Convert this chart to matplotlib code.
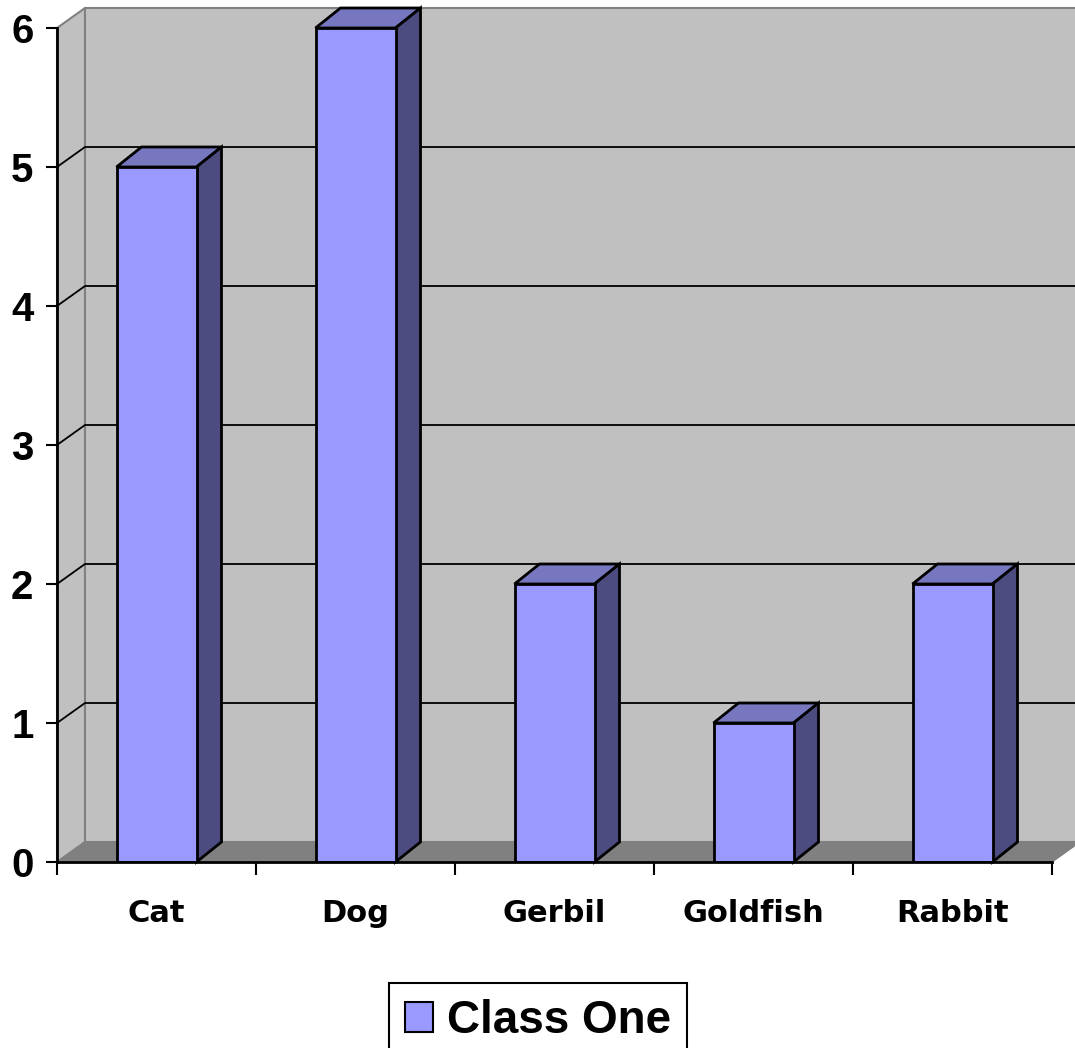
import matplotlib
matplotlib.use("Agg")
import matplotlib.pyplot as plt
from matplotlib.patches import Polygon

# datos
animales = ["Cat", "Dog", "Gerbil", "Goldfish", "Rabbit"]
class_one = [5, 6, 2, 1, 2]
y_ticks = [0, 1, 2, 3, 4, 5, 6]

W, H = 1075, 1048
fig = plt.figure(figsize=(W / 100, H / 100), dpi=100)
ax = fig.add_axes([57 / W, (H - 862) / H, 995 / W, 834 / H])
ax.set_xlim(0, len(animales))
ax.set_ylim(0, 6)
ax.set_facecolor("none")

# profundidad del efecto 3D (en unidades de datos)
dxw = 28 / 199
dy = 20 / 139
dxb = 25 / 199
ymax = y_ticks[-1]
n = len(animales)

gris = "#C0C0C0"
piso = "#808080"
borde = "#808080"

# pared izquierda, pared del fondo y piso
ax.add_patch(Polygon([(0, 0), (dxw, dy), (dxw, ymax + dy), (0, ymax)],
                     closed=True, facecolor=gris, edgecolor=borde, lw=1.5,
                     clip_on=False, zorder=0))
ax.add_patch(Polygon([(dxw, dy), (n + dxw, dy), (n + dxw, ymax + dy), (dxw, ymax + dy)],
                     closed=True, facecolor=gris, edgecolor=borde, lw=1.5,
                     clip_on=False, zorder=0))
ax.add_patch(Polygon([(0, 0), (n, 0), (n + dxw, dy), (dxw, dy)],
                     closed=True, facecolor=piso, edgecolor=borde, lw=1,
                     clip_on=False, zorder=1))

# lineas de cuadricula
for k in y_ticks[1:-1]:
    ax.plot([0, dxw, n + dxw], [k, k + dy, k + dy], color="black", lw=1.3,
            clip_on=False, zorder=2)

# barras: cara frontal, superior y lateral
ancho = 80 / 199
x_c = [i + 0.5 for i in range(n)]
ax.bar(x_c, class_one, width=ancho, color="#9999FF", edgecolor="black",
       linewidth=2, zorder=4, label="Class One")
for xc, v in zip(x_c, class_one):
    x0, x1 = xc - ancho / 2, xc + ancho / 2
    ax.add_patch(Polygon([(x0, v), (x1, v), (x1 + dxb, v + dy), (x0 + dxb, v + dy)],
                         closed=True, facecolor="#7777C0", edgecolor="black",
                         lw=2, clip_on=False, zorder=3))
    ax.add_patch(Polygon([(x1, 0), (x1 + dxb, dy), (x1 + dxb, v + dy), (x1, v)],
                         closed=True, facecolor="#4C4C80", edgecolor="black",
                         lw=2, clip_on=False, zorder=3))

# ejes
for s in ["top", "right"]:
    ax.spines[s].set_visible(False)
ax.spines["left"].set_bounds(0, 6)
ax.spines["bottom"].set_bounds(0, n)
for s in ["left", "bottom"]:
    ax.spines[s].set_linewidth(2)
    ax.spines[s].set_zorder(5)

ax.set_yticks(y_ticks)
ax.set_yticklabels([str(t) for t in y_ticks], fontfamily="Liberation Sans",
                   fontweight="bold", fontsize=29)
ax.tick_params(axis="y", direction="out", length=8, width=1.5, pad=9)

ax.set_xticks(range(n + 1))
ax.set_xticklabels([])
ax.tick_params(axis="x", which="major", direction="out", length=9, width=1.5)
ax.set_xticks(x_c, minor=True)
ax.set_xticklabels(animales, minor=True, fontfamily="DejaVu Sans",
                   fontweight="bold", fontsize=22)
ax.tick_params(axis="x", which="minor", length=0, pad=27)

leg = fig.legend(loc="upper center", bbox_to_anchor=(538 / W, 1 - 983 / H),
                 prop={"family": "Liberation Sans", "weight": "bold", "size": 33},
                 frameon=True, fancybox=False, edgecolor="black", framealpha=1,
                 handlelength=0.62, handleheight=0.62, handletextpad=0.3,
                 borderpad=0.35, borderaxespad=0)
leg.get_frame().set_linewidth(1.5)
leg.legend_handles[0].set_linewidth(1.5)

fig.savefig("out.png", dpi=100)
